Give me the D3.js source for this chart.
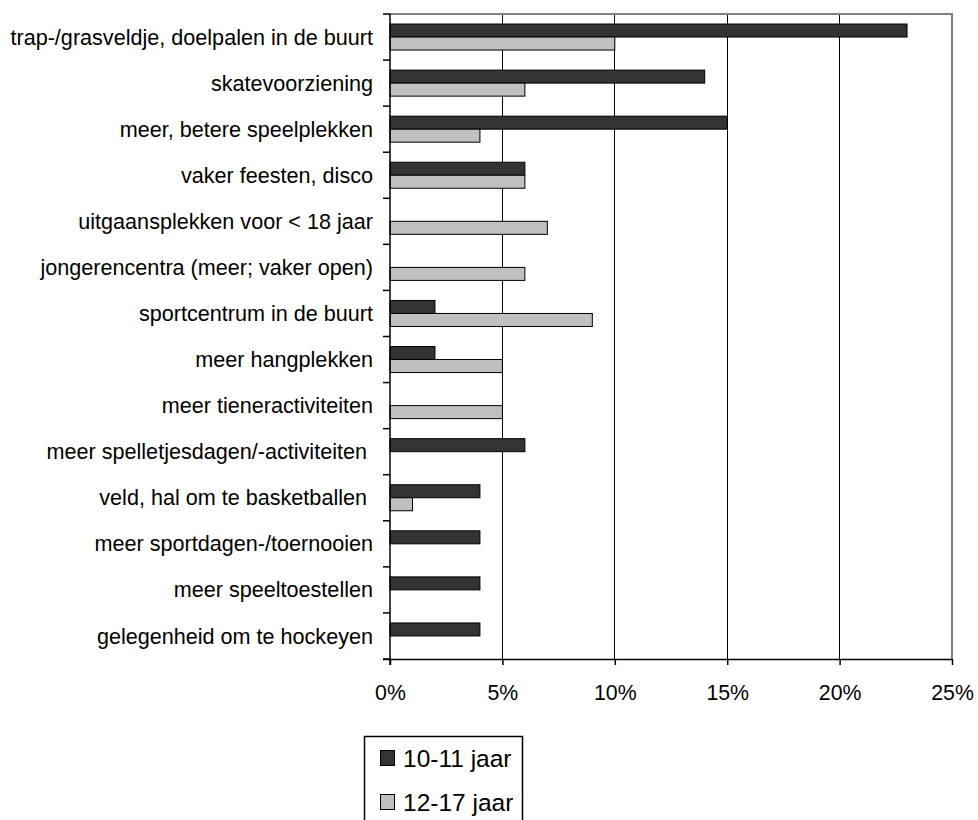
<!DOCTYPE html>
<html><head><meta charset="utf-8">
<script src="https://cdn.jsdelivr.net/npm/d3@7"></script>
<style>body{margin:0;background:#fff}svg{display:block}text{font-family:"Liberation Sans",Arial,sans-serif;fill:#000}</style>
</head><body>
<script>
const categories = [
  "trap-/grasveldje, doelpalen in de buurt",
  "skatevoorziening",
  "meer, betere speelplekken",
  "vaker feesten, disco",
  "uitgaansplekken voor < 18 jaar",
  "jongerencentra (meer; vaker open)",
  "sportcentrum in de buurt",
  "meer hangplekken",
  "meer tieneractiviteiten",
  "meer spelletjesdagen/-activiteiten ",
  "veld, hal om te basketballen ",
  "meer sportdagen-/toernooien",
  "meer speeltoestellen",
  "gelegenheid om te hockeyen"
];
const seriesNames = ["10-11 jaar", "12-17 jaar"];
const values1011 = [23, 14, 15, 6, null, null, 2, 2, null, 6, 4, 4, 4, 4];
const values1217 = [10, 6, 4, 6, 7, 6, 9, 5, 5, null, 1, null, null, null];
const xTicks = [0, 5, 10, 15, 20, 25];
const colors = ["#333333", "#c0c0c0"];

const W = 978, H = 820;
const L = 390, R = 952, T = 14, B = 659;
const svg = d3.select("body").append("svg").attr("width", W).attr("height", H);

const x = d3.scaleLinear().domain([0, 25]).range([L, R]);
const y0 = d3.scaleBand().domain(categories).range([T, B]);
const y1 = d3.scaleBand().domain(seriesNames).range([0, y0.bandwidth()]).paddingInner(0).paddingOuter(0.77);

// gridlines
svg.append("g").selectAll("line").data(xTicks.filter(d => d > 0 && d < 25)).join("line")
  .attr("x1", d => x(d)).attr("x2", d => x(d)).attr("y1", T).attr("y2", B)
  .attr("stroke", "#000").attr("stroke-width", 1).attr("shape-rendering", "crispEdges");

// top/right border
svg.append("path").attr("d", `M${L},${T}H${R}V${B}`).attr("fill", "none")
  .attr("stroke", "#808080").attr("stroke-width", 2);

// bars
const rows = categories.map((c, i) => ({c, v: [values1011[i], values1217[i]]}));
const bars = [];
rows.forEach(r => r.v.forEach((v, j) => { if (v != null) bars.push({c: r.c, s: seriesNames[j], v, j}); }));
svg.append("g").selectAll("rect").data(bars).join("rect")
  .attr("x", x(0)).attr("y", d => y0(d.c) + y1(d.s))
  .attr("width", d => x(d.v) - x(0)).attr("height", y1.bandwidth())
  .attr("fill", d => colors[d.j]).attr("stroke", "#000").attr("stroke-width", 1);

// x axis
const xAxis = svg.append("g").attr("transform", `translate(0,${B})`)
  .call(d3.axisBottom(x).tickValues(xTicks).tickFormat(d => d + "%").tickSize(6).tickPadding(20));
xAxis.select(".domain").attr("stroke", "#000").attr("stroke-width", 1.5).attr("d", `M${L - 7},0.5H${R}`);
xAxis.selectAll(".tick line").attr("stroke", "#000").attr("stroke-width", 1.5);
xAxis.selectAll("text").attr("font-size", 21.3).attr("font-family", "'Liberation Sans', Arial, sans-serif").attr("fill", "#000");

// y axis
const yAxis = svg.append("g").attr("transform", `translate(${L},0)`);
yAxis.append("line").attr("x1", 0).attr("x2", 0).attr("y1", T).attr("y2", B + 6).attr("stroke", "#000").attr("stroke-width", 1.5);
const bounds = categories.map(c => y0(c)).concat([B]);
yAxis.selectAll("line.tk").data(bounds).join("line").attr("class", "tk")
  .attr("x1", -7).attr("x2", 0).attr("y1", d => d).attr("y2", d => d).attr("stroke", "#000").attr("stroke-width", 1.5);
yAxis.selectAll("text").data(categories).join("text")
  .attr("x", -17).attr("y", d => y0(d) + y0.bandwidth() / 2).attr("dy", "0.35em")
  .attr("text-anchor", "end").attr("font-size", 21.6).style("white-space", "pre")
  .text(d => d);

// legend
const lg = svg.append("g");
lg.append("rect").attr("x", 364.5).attr("y", 736.5).attr("width", 158).attr("height", 100)
  .attr("fill", "#fff").attr("stroke", "#000").attr("stroke-width", 1.5);
seriesNames.forEach((s, i) => {
  const yy = 750 + i * 44;
  lg.append("rect").attr("x", 380.5).attr("y", yy + 0.5).attr("width", 14).attr("height", 15)
    .attr("fill", colors[i]).attr("stroke", "#000").attr("stroke-width", 1);
  lg.append("text").attr("x", 403).attr("y", yy + 16.5).attr("font-size", 24.5).text(s);
});
</script>
</body></html>
